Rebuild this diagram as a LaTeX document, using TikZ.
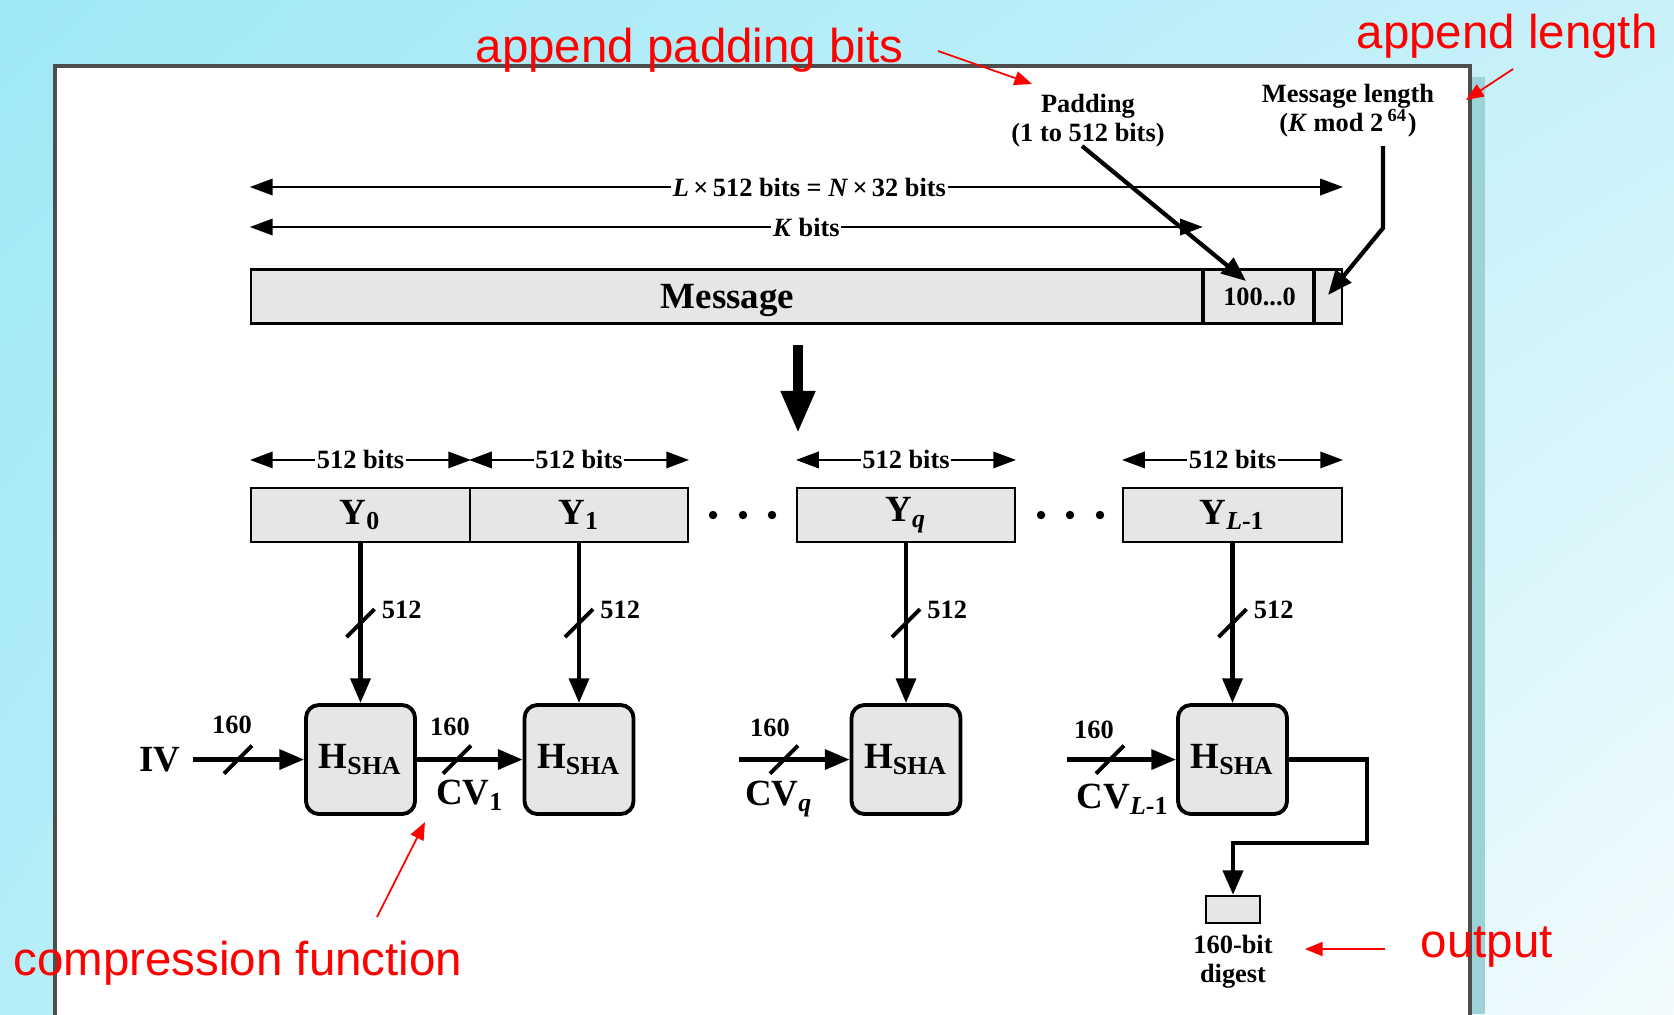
\documentclass[tikz,border=0pt]{standalone}
\usepackage{fontspec}
\setmainfont{Liberation Serif}
\newfontfamily\notefont{Liberation Sans}
\usetikzlibrary{arrows.meta,calc,shadings}
\definecolor{vbgtl}{HTML}{9EE8F6}
\definecolor{vbgtr}{HTML}{C8F1F9}
\definecolor{vbgbl}{HTML}{B4EEF8}
\definecolor{vbgbr}{HTML}{F2FBFD}
\definecolor{vframe}{HTML}{4D4D4D}
\definecolor{vshadow}{HTML}{9CD3D9}
\definecolor{vgray}{HTML}{E6E6E6}
\definecolor{vred}{HTML}{FF0000}
\newcommand\figsmall{\fontsize{7.5}{8.2}\selectfont\bfseries}
\newcommand\figbig{\fontsize{10.5}{12}\selectfont\bfseries}

\begin{document}
\begin{tikzpicture}[x=0.01cm, y=-0.01cm,
	blk/.style={draw, line width=0.6pt, fill=vgray, minimum height=0.54cm, inner sep=0pt, font=\figbig},
	hbox/.style={draw, line width=1.1pt, fill=vgray, rounded corners=0.13cm, minimum size=1.09cm, inner sep=0pt, font=\figbig},
	lbl/.style={font=\figsmall, inner sep=0.5pt},
	dim/.style={line width=0.8pt, {Triangle[length=6.5pt,width=4.6pt]}-{Triangle[length=6.5pt,width=4.6pt]}},
	flow/.style={line width=1.2pt, -{Triangle[length=7pt,width=5.6pt]}},
	slash/.style={line width=1.1pt},
	note/.style={font=\notefont\fontsize{13.5}{16}\selectfont, text=vred, inner sep=0pt},
	notearrow/.style={vred, line width=0.5pt, -{Triangle[length=5pt,width=4pt]}}]

		\useasboundingbox (0,0) rectangle (1674,1014);
		\clip (0,0) rectangle (1674,1014);
		% slide background and panel
		\shade[upper left=vbgtl, upper right=vbgtr, lower left=vbgbl, lower right=vbgbr] (0,0) rectangle (1674,1014);
		\fill[vshadow] (1471,77) rectangle (1485,1014);
		\draw[vframe, line width=0.9pt, fill=white] (55,66) rectangle (1470,1040);

		% message with padding and length
		\node[blk, minimum width=9.53cm, text height=7pt, text depth=0pt] (msg) at (727.5,296.5) {Message};
		\node[blk, minimum width=1.11cm, font=\figsmall] (pad) at (1259.5,296.5) {100...0};
		\node[blk, minimum width=0.27cm] (len) at (1328.5,296.5) {};
		\draw[line width=1.1pt] (pad.north west) -- (pad.south west) (len.north west) -- (len.south west);

		\coordinate (lL) at (msg.west |- 0,187);
		\coordinate (lR) at (len.east |- 0,187);
		\coordinate (kL) at (msg.west |- 0,227);
		\coordinate (kR) at (pad.west |- 0,227);
		\draw[dim] (lL) -- node[lbl, fill=white, pos=.512] (ltxt) {\textit{L}\,×\,512 bits = \textit{N}\,×\,32 bits} (lR);
		\draw[dim] (kL) -- node[lbl, fill=white, pos=.584] (ktxt) {\textit{K} bits} (kR);

		\node[lbl, align=center] (padtxt) at (1088,121) {Padding\\(1 to 512 bits)};
		\node[lbl, align=center] (lentxt) at (1348,111) {Message length\\(\textit{K} mod 2\,\textsuperscript{64})};
		\coordinate (padfrom) at (1082,146);
		\coordinate (padto) at (1246,281);
		\draw[flow] (padfrom) -- (padto);
		\coordinate (lenfrom) at (1383,146);
		\coordinate (lenbend) at (1383,228);
		\coordinate (lento) at (1328,295);
		\draw[flow] (lenfrom) -- (lenbend) -- (lento);

		\coordinate (splitfrom) at (798,345);
		\coordinate (splitto) at (798,433);
		\draw[line width=2.8pt, -{Triangle[length=12pt,width=9.2pt]}] (splitfrom) -- (splitto);

		% 512-bit blocks
		\node[blk, minimum width=2.19cm] (y0) at (360.5,515) {Y\textsubscript{0}};
		\node[blk, minimum width=2.18cm] (y1) at (579,515) {Y\textsubscript{1}};
		\node[blk, minimum width=2.18cm] (yq) at (906,515) {Y\textsubscript{\textit{q}}};
		\node[blk, minimum width=2.19cm] (yl) at (1232.5,515) {Y\textsubscript{\textit{L}-1}};
		\foreach \dx in {713,743,772,1041,1070,1100}
			\fill (\dx,515) circle (1.2pt);
		\foreach \b in {y0,y1,yq,yl}
			\draw[dim] ($(\b.north west)+(0,-27)$) -- node[lbl, fill=white] (w\b) {512 bits} ($(\b.north east)+(0,-27)$);

		% compression function stages
		\node[hbox] (h0) at (360.5,759.5) {H\textsubscript{SHA}};
		\node[hbox] (h1) at (579,759.5) {H\textsubscript{SHA}};
		\node[hbox] (hq) at (906,759.5) {H\textsubscript{SHA}};
		\node[hbox] (hl) at (1232.5,759.5) {H\textsubscript{SHA}};
		\foreach \b/\h in {y0/h0,y1/h1,yq/hq,yl/hl} {
			\draw[flow] (\b) -- (\h);
			\coordinate (m) at ($(\b.south)!.5!(\h.north)$);
			\draw[slash] ($(m)+(-14,14)$) -- ($(m)+(14,-14)$);
			\node[lbl, anchor=west] (n\h) at ($(m)+(19,-13)$) {512};
		}

		\node[font=\figbig] (iv) at (160,759.5) {IV};
		\coordinate (cvqin) at (739,759.5);
		\coordinate (cvlin) at (1067,759.5);
		\draw[flow] (iv) -- (h0);
		\draw[flow] (h0) -- (h1);
		\draw[flow] (cvqin) -- (hq);
		\draw[flow] (cvlin) -- (hl);
		\foreach \sx in {238,457,784,1110}
			\draw[slash] (\sx-14,773.5) -- (\sx+14,745.5);
		\foreach \tx/\ty [count=\i] in {232/725,450/727,770/728,1094/730}
			\node[lbl] (c\i) at (\tx,\ty) {160};
		\node[font=\figbig] (cv1) at (470,795) {CV\textsubscript{1}};
		\node[font=\figbig] (cvq) at (779,799) {CV\textsubscript{\textit{q}}};
		\node[font=\figbig] (cvl) at (1123,799) {CV\textsubscript{\textit{L}-1}};

		% digest
		\node[blk, minimum width=0.54cm, minimum height=0.27cm] (dig) at (1233,909.5) {};
		\node[lbl, align=center] (digtxt) at (1233,962) {160-bit\\digest};
		\coordinate (outR) at (1367,843);
		\draw[flow, line width=1.4pt] (hl) -| (outR) -| (dig);

		% red notes
		\node[note, anchor=base west] (apb) at (475,62) {append padding bits};
		\node[note, anchor=base west] (alen) at (1356,48) {append length};
		\node[note, anchor=base west] (cf) at (13,975) {compression function};
		\node[note, anchor=base west] (outp) at (1420,957) {output};
		\coordinate (apbfrom) at (938,51);
		\coordinate (apbto) at (1032,84);
		\coordinate (alenfrom) at (1513,69);
		\coordinate (alento) at (1466,100);
		\coordinate (cffrom) at (377,917);
		\coordinate (cfto) at (425,822);
		\coordinate (outpfrom) at (1385,949);
		\coordinate (outpto) at (1305,949);
		\draw[notearrow] (apbfrom) -- (apbto);
		\draw[notearrow] (alenfrom) -- (alento);
		\draw[notearrow] (cffrom) -- (cfto);
		\draw[notearrow] (outpfrom) -- (outpto);
	\end{tikzpicture}
\end{document}
